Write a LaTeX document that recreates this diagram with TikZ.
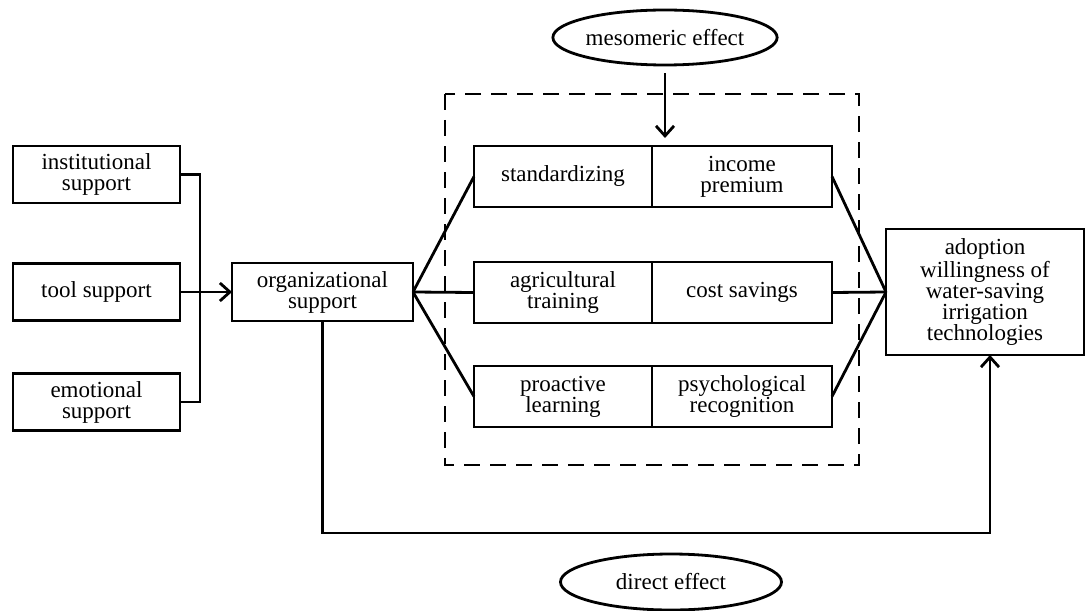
\documentclass[tikz,border=0pt]{standalone}
\usepackage{fontspec}
\setmainfont{Liberation Serif}
\usetikzlibrary{arrows.meta, shapes.geometric, positioning}

\tikzset{
  box/.style={draw, line width=1.4pt, rectangle, align=center, inner sep=1pt, outer sep=0pt,
    font=\fontsize{11.5}{10.5}\selectfont},
  effect/.style={draw, line width=1.4pt, ellipse, inner sep=0pt,
    font=\fontsize{11.5}{10.5}\selectfont},
  link/.style={line width=1.4pt},
  barb/.style={-{Straight Barb[length=5pt,width=9pt,line width=1.4pt]}},
}

\begin{document}
\begin{tikzpicture}[x=0.5pt, y=-0.5pt]
        \useasboundingbox (0,0) rectangle (1086,610);

        % Support sources
        \node[box, minimum width=83.5pt, minimum height=28.5pt] (inst) at (96.5,174.5) {institutional\\support};
        \node[box, minimum width=83.5pt, minimum height=28.5pt] (tool) at (96.5,292) {tool support};
        \node[box, minimum width=83.5pt, minimum height=28.5pt] (emot) at (96.5,402) {emotional\\support};

        % Organizational support
        \node[box, minimum width=90.5pt, minimum height=29pt] (org) at (322.5,292) {organizational\\support};

        % Mediating paths
        \node[box, minimum width=89pt, minimum height=30.5pt] (stdz) at (563,176.5) {standardizing};
        \node[box, minimum width=90pt, minimum height=30.5pt, right=0pt of stdz] (incp) {income\\premium};
        \node[box, minimum width=89pt, minimum height=30.5pt] (agtr) at (563,292.5) {agricultural\\training};
        \node[box, minimum width=90pt, minimum height=30.5pt, right=0pt of agtr] (cost) {cost savings};
        \node[box, minimum width=89pt, minimum height=30.5pt] (proa) at (563,396.5) {proactive\\learning};
        \node[box, minimum width=90pt, minimum height=30.5pt, right=0pt of proa] (psyc) {psychological\\recognition};

        % Outcome
        \node[box, minimum width=99pt, minimum height=63pt] (adopt) at (985,292) {adoption\\willingness of\\water-saving\\irrigation\\technologies};

        % Mediation frame
        \draw[line width=1.4pt, dash pattern=on 8pt off 5pt] (445,94) rectangle (859,465);

        % Effect labels
        \node[effect, minimum width=97pt, minimum height=27.5pt] (meso) at (665,37.5) {mesomeric effect};
        \node[effect, minimum width=110.5pt, minimum height=28pt] (dire) at (671,582) {direct effect};

        % Bus into organizational support
        \draw[link] (inst.east) -- (200,174.5) |- (emot.east);
        \draw[link, barb] (tool.east) -- (org.west);

        % Fan out and in
        \foreach \m in {stdz, agtr, proa} {
          \draw[link] (org.east) -- (\m.west);
        }
        \foreach \m in {incp, cost, psyc} {
          \draw[link] (\m.east) -- (adopt.west);
        }

        % Mesomeric arrow
        \draw[link, barb, shorten <=3.5pt, shorten >=4pt] (meso.south) -- (meso.south |- stdz.north);

        % Direct path
        \coordinate (dcorner) at (990,533);
        \draw[link, barb] (org.south) |- (dcorner) -- (dcorner |- adopt.south);
\end{tikzpicture}
\end{document}
